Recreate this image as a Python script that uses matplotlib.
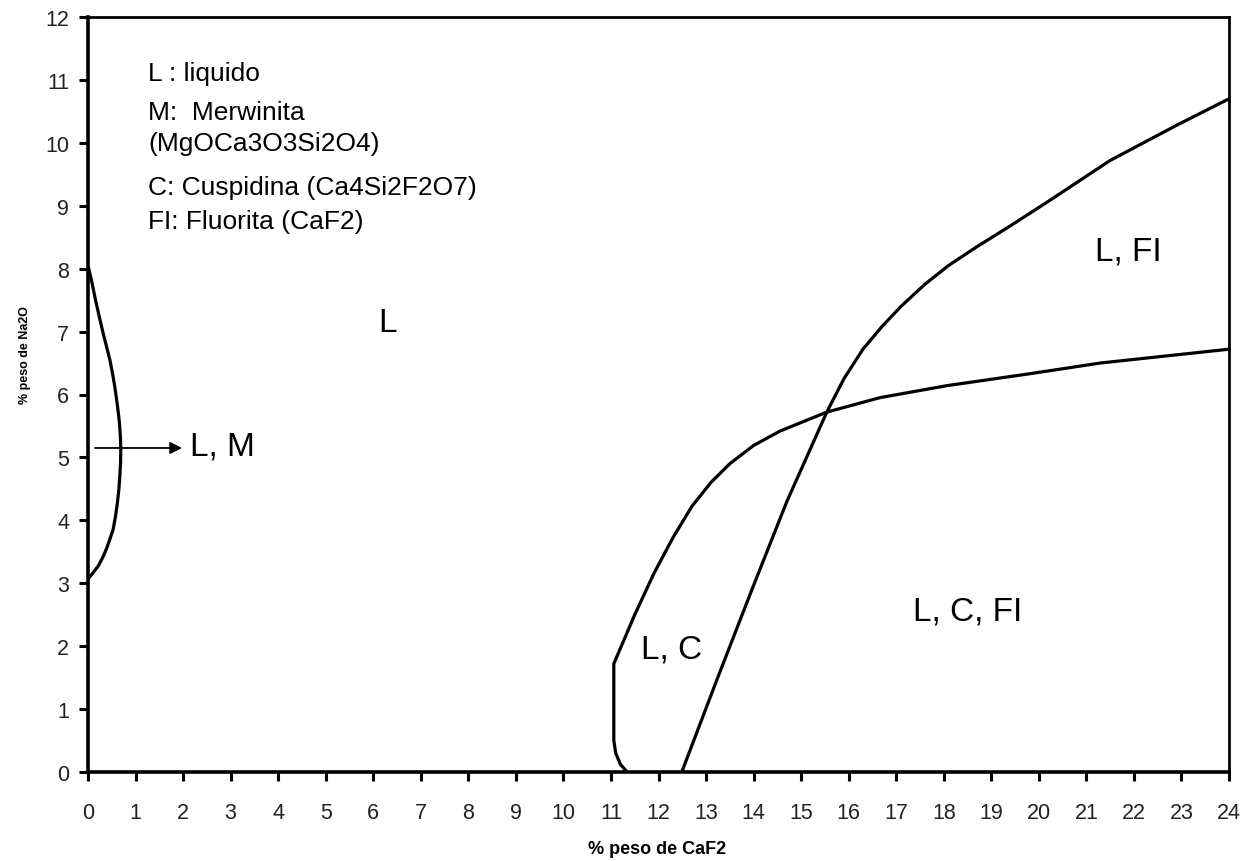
import matplotlib
matplotlib.use('Agg')
import matplotlib.pyplot as plt

plt.rcParams['font.family'] = ['Liberation Sans', 'DejaVu Sans']

# ---- data ----
# L, M boundary (Merwinita field)
lm_x = [0.0, 0.08, 0.15, 0.23, 0.31, 0.39, 0.46, 0.52, 0.57, 0.62, 0.66, 0.68, 0.69,
        0.685, 0.67, 0.65, 0.62, 0.58, 0.53, 0.46, 0.39, 0.31, 0.22, 0.11, 0.0]
lm_y = [8.05, 7.79, 7.53, 7.26, 7.00, 6.76, 6.55, 6.32, 6.09, 5.82, 5.56, 5.35, 5.14,
        4.92, 4.71, 4.50, 4.29, 4.07, 3.86, 3.70, 3.55, 3.41, 3.28, 3.17, 3.07]

# Curve A: L,C boundary continuing to the lower right line
a_x = [11.34, 11.20, 11.10, 11.06, 11.06, 11.50, 11.90, 12.30, 12.70, 13.10, 13.50,
       14.00, 14.56, 15.54, 16.66, 18.06, 19.81, 21.29, 24.0]
a_y = [0.0, 0.12, 0.30, 0.50, 1.72, 2.50, 3.15, 3.72, 4.22, 4.60, 4.90,
       5.19, 5.42, 5.72, 5.95, 6.14, 6.33, 6.50, 6.72]

# Curve B: from 12.5 on the x axis to the upper right
b_x = [12.49, 13.22, 13.95, 14.70, 15.54, 15.90, 16.30, 16.70, 17.10, 17.60, 18.10,
       18.70, 19.40, 20.20, 21.50, 22.90, 24.0]
b_y = [0.0, 1.45, 2.87, 4.30, 5.72, 6.25, 6.72, 7.08, 7.40, 7.75, 8.05,
       8.35, 8.68, 9.07, 9.72, 10.28, 10.70]

x_ticks = list(range(0, 25))
y_ticks = list(range(0, 13))

legend_lines = ["L : liquido", "M:  Merwinita", "(MgOCa3O3Si2O4)",
                "C: Cuspidina (Ca4Si2F2O7)", "FI: Fluorita (CaF2)"]
legend_y = [11.11, 10.49, 9.99, 9.30, 8.76]

region_labels = ["L", "L, M", "L, C", "L, C, FI", "L, FI"]
region_x = [6.29, 2.15, 12.28, 18.51, 21.88]
region_y = [7.14, 5.18, 1.96, 2.56, 8.28]
region_ha = ["center", "left", "center", "center", "center"]

arrow_start = (0.15, 5.15)
arrow_end = (1.98, 5.15)

# ---- figure ----
W, H = 1254, 862
fig = plt.figure(figsize=(W / 100, H / 100), dpi=100)
ax = fig.add_axes([88 / W, 1 - 773 / H, (1229 - 88) / W, (773 - 18) / H])
ax.set_xlim(0, 24)
ax.set_ylim(0, 12)
ax.set_xticks(x_ticks)
ax.set_yticks(y_ticks)
ax.tick_params(axis='both', direction='out', length=6.5, width=2.2,
               labelsize=15.5, colors='black')
ax.tick_params(axis='x', pad=15)
ax.tick_params(axis='y', pad=7)
for lab in ax.get_xticklabels() + ax.get_yticklabels():
    lab.set_color('#222222')
for side in ['left', 'bottom']:
    ax.spines[side].set_linewidth(2.6)
for side in ['top', 'right']:
    ax.spines[side].set_linewidth(2.0)

lw = 2.3
for xs, ys in [(lm_x, lm_y), (a_x, a_y), (b_x, b_y)]:
    ax.plot(xs, ys, color='black', lw=lw, solid_joinstyle='round',
            solid_capstyle='round')

ax.annotate('', xy=arrow_end, xytext=arrow_start,
            arrowprops=dict(arrowstyle='-|>', color='black', lw=1.3,
                            mutation_scale=18, shrinkA=0, shrinkB=0))

for txt, y in zip(legend_lines, legend_y):
    ax.text(1.26, y, txt, ha='left', va='center', fontsize=19, color='black')

for txt, x, y, ha in zip(region_labels, region_x, region_y, region_ha):
    ax.text(x, y, txt, ha=ha, va='center', fontsize=24, color='black')

fig.text(657 / W, 1 - 850 / H, '% peso de CaF2', ha='center', va='center',
         fontsize=13, fontweight='bold')
fig.text(25 / W, 1 - 355 / H, '% peso de Na2O', ha='center', va='center',
         fontsize=9, fontweight='bold', rotation=90)

fig.savefig('out.png', dpi=100)
